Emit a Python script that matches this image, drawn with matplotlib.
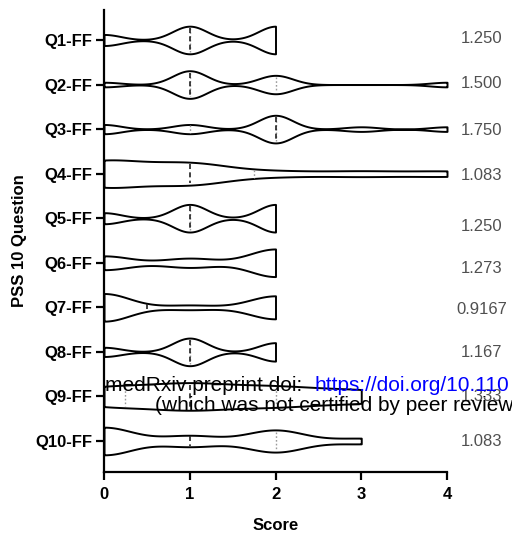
import numpy as np
import matplotlib
matplotlib.use("Agg")
import matplotlib.pyplot as plt
from matplotlib import cbook, mlab
from matplotlib.transforms import blended_transform_factory

# ---------------- data ----------------
questions = ["Q1-FF", "Q2-FF", "Q3-FF", "Q4-FF", "Q5-FF",
             "Q6-FF", "Q7-FF", "Q8-FF", "Q9-FF", "Q10-FF"]
scores = [0, 1, 2, 3, 4]
counts_q1 = [2, 5, 5, 0, 0]
counts_q2 = [1, 6, 4, 0, 1]
counts_q3 = [2, 2, 6, 1, 1]
counts_q4 = [5, 4, 1, 1, 1]
counts_q5 = [2, 5, 5, 0, 0]
counts_q6 = [3, 2, 6, 0, 0]
counts_q7 = [6, 1, 5, 0, 0]
counts_q8 = [2, 6, 4, 0, 0]
counts_q9 = [3, 4, 3, 2, 0]
counts_q10 = [5, 2, 4, 1, 0]
all_counts = [counts_q1, counts_q2, counts_q3, counts_q4, counts_q5,
              counts_q6, counts_q7, counts_q8, counts_q9, counts_q10]
# KDE bandwidth (in score units) per violin
bandwidths = [0.2, 0.2, 0.2, 0.45, 0.2, 0.3, 0.3, 0.2, 0.5, 0.33]
mean_labels = ["1.250", "1.500", "1.750", "1.083", "1.250",
               "1.273", "0.9167", "1.167", "1.333", "1.083"]
label_dy_px = [-1.5, -1.5, 1.5, 1.5, 8, 6, 2, 1, 0, 1]
x_ticks = [0, 1, 2, 3, 4]

# ---------------- figure ----------------
W, H = 512, 546
fig = plt.figure(figsize=(W / 100, H / 100), dpi=100)
ax = fig.add_axes([104 / W, (H - 472) / H, 343 / W, 462 / H])

font = "Liberation Sans"
plt.rcParams["font.family"] = [font, "DejaVu Sans"]

positions = np.arange(1, len(questions) + 1)
vwidth = 0.62

for pos, counts, bw in zip(positions, all_counts, bandwidths):
    data = np.repeat(scores, counts).astype(float)
    factor = bw / np.std(data, ddof=1)

    def kde(X, coords, f=factor):
        return mlab.GaussianKDE(X, bw_method=f).evaluate(coords)

    stats = cbook.violin_stats(data, kde, points=300)
    parts = ax.violin(stats, positions=[pos], orientation="horizontal",
                      widths=vwidth, showmeans=False, showextrema=False,
                      showmedians=False)
    for b in parts["bodies"]:
        b.set_facecolor("white")
        b.set_edgecolor("black")
        b.set_linewidth(1.4)
        b.set_alpha(1)
        b.set_clip_on(False)
        b.set_zorder(2)

    coords = stats[0]["coords"]
    vals = stats[0]["vals"]
    scale = (vwidth / 2) / vals.max()
    q1, med, q3 = np.percentile(data, [25, 50, 75], method="weibull")
    for v, ls, col, lw in [(q1, (0, (1.2, 1.5)), "#9a9a9a", 1.0),
                           (q3, (0, (1.2, 1.5)), "#9a9a9a", 1.0),
                           (med, (0, (3, 2)), "#202020", 1.2)]:
        if v <= data.min() or v >= data.max():
            continue
        h = np.interp(v, coords, vals) * scale * 0.85
        ax.plot([v, v], [pos - h, pos + h], ls=ls, color=col, lw=lw, zorder=3)

ax.set_xlim(0, 4)
ax.set_ylim(10.696, 0.327)
ax.set_xticks(x_ticks)
ax.set_xticklabels([str(t) for t in x_ticks], fontsize=12, fontweight="bold",
                   family=font)
ax.set_yticks(positions)
ax.set_yticklabels(questions, fontsize=12, fontweight="bold", family=font)
for s in ["top", "right"]:
    ax.spines[s].set_visible(False)
for s in ["left", "bottom"]:
    ax.spines[s].set_linewidth(1.6)
ax.tick_params(axis="y", direction="out", length=5.5, width=1.6,
               colors="black", pad=3)
ax.tick_params(axis="x", direction="out", length=5.5, width=1.6,
               colors="black", pad=5)
ax.set_xlabel("Score", fontsize=12, fontweight="bold", family=font, labelpad=12)
ax.set_ylabel("PSS 10 Question", fontsize=12, fontweight="bold", family=font,
              labelpad=6)

# mean labels on the right
trans = blended_transform_factory(fig.transFigure, ax.transData)
for pos, lab, dy in zip(positions, mean_labels, label_dy_px):
    ax.annotate(lab, xy=(482 / W, pos), xycoords=trans,
                xytext=(0, -dy * 0.72), textcoords="offset points",
                ha="center", va="center", fontsize=12, color="#505050",
                family=font, annotation_clip=False, zorder=1)

# medRxiv watermark
fig.text(105 / W, 1 - 391 / H, "medRxiv preprint doi: ", fontsize=15,
         color="black", family=font, va="baseline", ha="left")
fig.text(315 / W, 1 - 391 / H, "https://doi.org/10.110", fontsize=15,
         color="#0000ff", family=font, va="baseline", ha="left")
fig.text(155 / W, 1 - 411 / H, "(which was not certified by peer review)",
         fontsize=15, color="black", family=font, va="baseline", ha="left")

fig.savefig("out.png", dpi=100)
